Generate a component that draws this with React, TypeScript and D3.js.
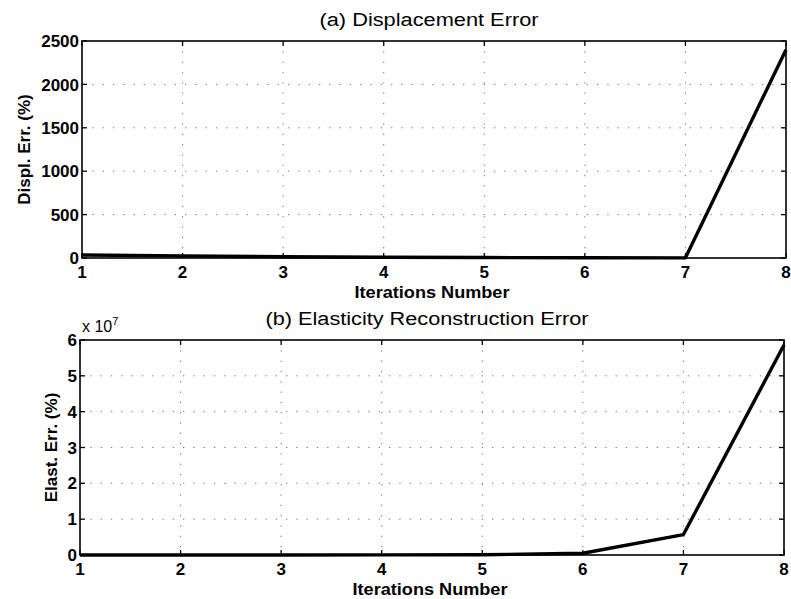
import React from "react";
import * as d3 from "d3";

const iterations = [1, 2, 3, 4, 5, 6, 7, 8];
const displErr = [35, 25, 14, 8, 5, 3, 2, 2400];
const elastErr = [0.002, 0.002, 0.002, 0.003, 0.005, 0.05, 0.57, 5.86]; // x 10^7
const displTicks = [0, 500, 1000, 1500, 2000, 2500];
const elastTicks = [0, 1, 2, 3, 4, 5, 6];

const W = 791;
const H = 599;
const FONT = "'Liberation Sans', Arial, Helvetica, sans-serif";

type PanelProps = {
  left: number; right: number; top: number; bottom: number;
  values: number[]; yTicks: number[]; yMax: number;
  title: string; ylabel: string; ylabelX: number;
  titleY: number; xlabelY: number; titleLen: number;
  exponent?: boolean;
};

function Panel(p: PanelProps) {
  const x = d3.scaleLinear().domain([1, 8]).range([p.left, p.right]);
  const y = d3.scaleLinear().domain([0, p.yMax]).range([p.bottom, p.top]);
  const line = d3.line<number>().x((_, i) => x(iterations[i])).y((d) => y(d));
  const tl = 5;
  const midX = (p.left + p.right) / 2;
  const midY = (p.top + p.bottom) / 2;
  return (
    <g>
      {iterations.slice(1, -1).map((t) => (
        <line key={"gx" + t} x1={x(t)} x2={x(t)} y1={p.top} y2={p.bottom}
          stroke="#777" strokeWidth={1} strokeDasharray="1.3 9" />
      ))}
      {p.yTicks.slice(1, -1).map((t) => (
        <line key={"gy" + t} x1={p.left} x2={p.right} y1={y(t)} y2={y(t)}
          stroke="#777" strokeWidth={1} strokeDasharray="1.3 9" />
      ))}
      {iterations.map((t) => (
        <g key={"tx" + t}>
          <line x1={x(t)} x2={x(t)} y1={p.bottom} y2={p.bottom - tl} stroke="#000" strokeWidth={1.3} />
          <line x1={x(t)} x2={x(t)} y1={p.top} y2={p.top + tl} stroke="#000" strokeWidth={1.3} />
          <text x={x(t)} y={p.bottom + 20} textAnchor="middle" fontFamily={FONT}
            fontWeight="bold" fontSize={17}>{t}</text>
        </g>
      ))}
      {p.yTicks.map((t) => (
        <g key={"ty" + t}>
          <line x1={p.left} x2={p.left + tl} y1={y(t)} y2={y(t)} stroke="#000" strokeWidth={1.3} />
          <line x1={p.right} x2={p.right - tl} y1={y(t)} y2={y(t)} stroke="#000" strokeWidth={1.3} />
          <text x={p.left - 3} y={y(t)} dy="0.36em" textAnchor="end" fontFamily={FONT}
            fontWeight="bold" fontSize={17}>{t}</text>
        </g>
      ))}
      <rect x={p.left} y={p.top} width={p.right - p.left} height={p.bottom - p.top}
        fill="none" stroke="#000" strokeWidth={1.6} />
      <path d={line(p.values) || ""} fill="none" stroke="#000" strokeWidth={3.4}
        strokeLinejoin="round" />
      <text x={midX - 5} y={p.titleY} textAnchor="middle" fontFamily={FONT} fontSize={18}
        textLength={p.titleLen} lengthAdjust="spacingAndGlyphs">{p.title}</text>
      <text x={midX - 2} y={p.xlabelY} textAnchor="middle" fontFamily={FONT} fontSize={16}
        fontWeight="bold" textLength={155} lengthAdjust="spacingAndGlyphs">Iterations Number</text>
      <text transform={`translate(${p.ylabelX},${midY}) rotate(-90)`} textAnchor="middle"
        dy="0.36em" fontFamily={FONT} fontSize={17} fontWeight="bold">{p.ylabel}</text>
      {p.exponent && (
        <text x={p.left + 2} y={p.top - 8} fontFamily={FONT} fontSize={16}>
          x 10<tspan dy={-7} fontSize={11}>7</tspan>
        </text>
      )}
    </g>
  );
}

export default function App() {
  return (
    <svg width={W} height={H} style={{ position: "absolute", left: 0, top: 0, background: "#fff" }}>
      <rect width={W} height={H} fill="#fff" />
      <Panel left={82} right={786} top={41} bottom={258} values={displErr}
        yTicks={displTicks} yMax={2500} title="(a) Displacement Error"
        ylabel="Displ. Err. (%)" ylabelX={24} titleY={26} xlabelY={298} titleLen={219} />
      <Panel left={80} right={784} top={340} bottom={555} values={elastErr}
        yTicks={elastTicks} yMax={6} title="(b) Elasticity Reconstruction Error"
        ylabel="Elast. Err. (%)" ylabelX={51} titleY={325} xlabelY={595} titleLen={323}
        exponent />
    </svg>
  );
}
